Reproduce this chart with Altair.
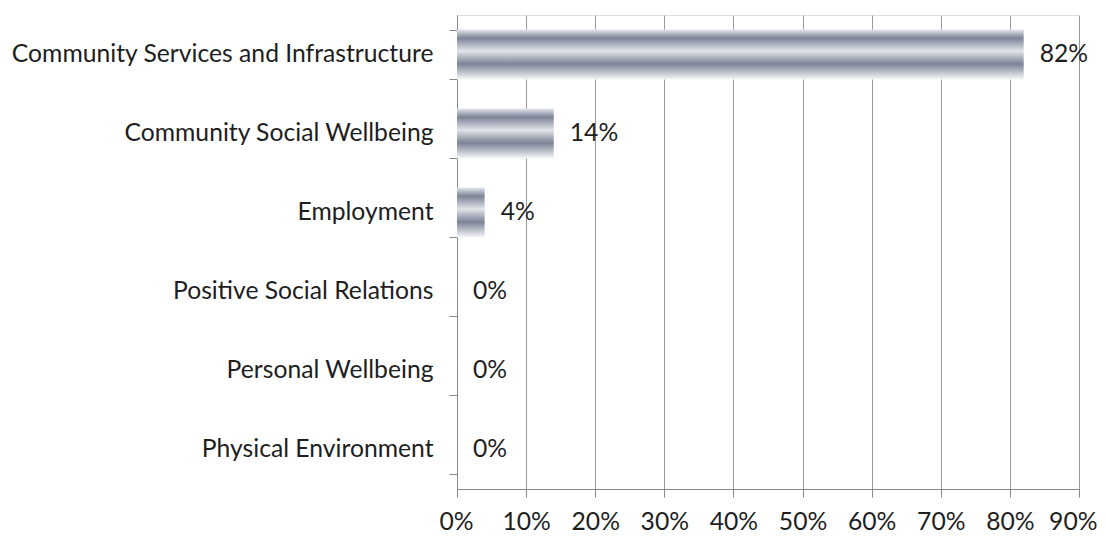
import altair as alt
import pandas as pd

categories = [
    "Community Services and Infrastructure",
    "Community Social Wellbeing",
    "Employment",
    "Positive Social Relations",
    "Personal Wellbeing",
    "Physical Environment",
]
values = [0.82, 0.14, 0.04, 0.0, 0.0, 0.0]

df = pd.DataFrame({"category": categories, "value": values})

FONT = "Lato"
FS = 24.7
TXT = "#1e1e1e"
dark = "#7b8396"
light = "#e2e4ea"
grad = alt.Gradient(
    gradient="linear",
    x1=0, y1=0, x2=0, y2=1,
    stops=[
        alt.GradientStop(color="#e4e6ec", offset=0.0),
        alt.GradientStop(color=dark, offset=0.17),
        alt.GradientStop(color=light, offset=0.43),
        alt.GradientStop(color=dark, offset=0.69),
        alt.GradientStop(color="#f6f7f9", offset=1.0),
    ],
)

y = alt.Y(
    "category:N",
    sort=categories,
    title=None,
    scale=alt.Scale(paddingInner=0.37, paddingOuter=0.185),
    axis=alt.Axis(
        tickBand="extent",
        tickSize=8,
        labelPadding=16,
        labelFont=FONT,
        labelFontSize=FS,
        labelColor=TXT,
        labelLimit=600,
        domainColor="#888888",
        tickColor="#888888",
        grid=False,
    ),
)
x = alt.X(
    "value:Q",
    title=None,
    scale=alt.Scale(domain=[0, 0.9], nice=False),
    axis=alt.Axis(
        values=[0, 0.1, 0.2, 0.3, 0.4, 0.5, 0.6, 0.7, 0.8, 0.9],
        format=".0%",
        tickSize=8,
        labelPadding=12,
        labelOverlap=False,
        labelFlush=True,
        labelFlushOffset=18,
        labelFont=FONT,
        labelFontSize=FS,
        labelColor=TXT,
        domainColor="#888888",
        tickColor="#888888",
        gridColor="#999999",
        gridOpacity=1,
    ),
)

bars = alt.Chart(df).mark_bar(color=grad).encode(x=x, y=y)
labels = alt.Chart(df).mark_text(
    align="left", baseline="middle", dx=16, font=FONT, fontSize=FS, color=TXT
).encode(x=x, y=y, text=alt.Text("value:Q", format=".0%"))

chart = (bars + labels).properties(
    width=622, height=474, padding={"left": 2, "top": -6, "right": 0, "bottom": 5}
).configure_view(stroke=None).configure(background="white")

chart.save("out.html", embed_options={"renderer": "svg", "actions": False})
